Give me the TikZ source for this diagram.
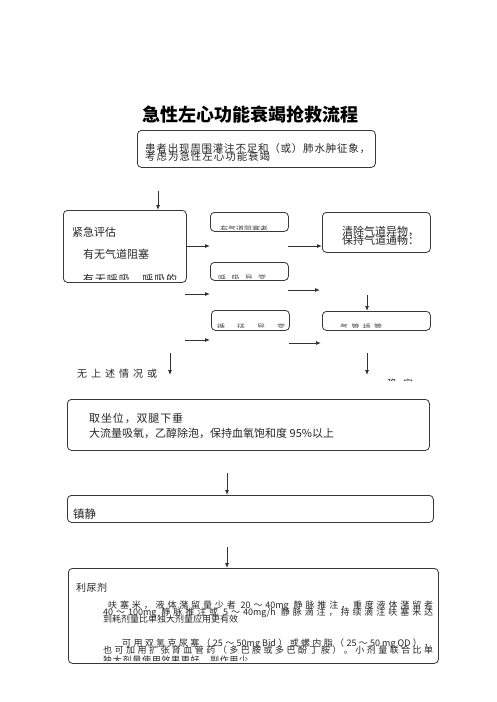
\documentclass[tikz,border=0pt]{standalone}
\usepackage{fontspec}
\setmainfont{Noto Sans CJK SC}
\usetikzlibrary{arrows.meta}
\ExplSyntaxOn
\NewDocumentCommand\spr{mm}{\hbox~to~#1{\tl_map_inline:nn{#2}{##1\hfil}\unskip}}
\ExplSyntaxOff
\begin{document}
\begin{tikzpicture}[x=1pt,y=-1pt,
  rbox/.style={draw=black!78, line width=0.8pt, rounded corners=4pt, anchor=north west, inner sep=0pt},
  txt/.style={anchor=base west, inner sep=0pt, text=black!85, font=\fontsize{11}{11}\selectfont},
  small/.style={txt, font=\fontsize{9}{9}\selectfont},
  tiny/.style={txt, font=\fontsize{8}{8}\selectfont, text=black!70},
  arr/.style={draw=black!80, line width=0.8pt, -{Latex[length=5pt,width=4pt]}}
]
\useasboundingbox (0,0) rectangle (496,702);
\fill[white] (0,0) rectangle (496,702);

% title
\node[anchor=base, inner sep=0pt, font=\fontsize{18}{18}\selectfont\bfseries] (title) at (250,121) {急性左心功能衰竭抢救流程};

% box 1
\node[rbox, minimum width=238pt, minimum height=37pt] (b1) at (137,130) {};
\node[txt, font=\fontsize{10.5}{10.5}\selectfont] (b1a) at (145,152) {\spr{225pt}{患者出现周围灌注不足和（或）肺水肿征象，}};
\node[txt, font=\fontsize{10.5}{10.5}\selectfont] (b1b) at (145,160) {\spr{125pt}{考虑为急性左心功能衰竭}};

% left box
\node[rbox, minimum width=123pt, minimum height=72pt] (lb) at (63,210) {};
\node[txt] (lba) at (72,236) {紧急评估};
\node[txt] (lbb) at (83,258) {有无气道阻塞};
\begin{scope}
  \clip (64,211) rectangle (185,279);
  \node[txt] (lbc) at (83,283) {\spr{94pt}{有无呼吸，呼吸的}};
\end{scope}

% middle boxes
\node[rbox, minimum width=78pt, minimum height=19pt] (ma) at (210,212) {};
\node[rbox, minimum width=78pt, minimum height=18pt] (mb) at (210,262) {};
\node[rbox, minimum width=78pt, minimum height=20pt] (mc) at (211,310) {};
\begin{scope}
  \clip (211,213) rectangle (287,229);
  \node[tiny] (mat) at (220,232) {\spr{44pt}{有气道阻塞者}};
\end{scope}
\begin{scope}
  \clip (211,263) rectangle (287,278);
  \node[tiny] (mbt) at (218,281) {\spr{48pt}{呼吸异常}};
\end{scope}
\begin{scope}
  \clip (212,311) rectangle (288,327);
  \node[tiny] (mct) at (217,330) {\spr{68pt}{循环异常}};
\end{scope}

% right boxes
\node[rbox, minimum width=108pt, minimum height=40pt] (ra) at (322,212) {};
\node[txt] (raa) at (342,235) {清除气道异物，};
\node[txt] (rab) at (342,244) {保持气道通畅：};
\node[rbox, minimum width=108pt, minimum height=19pt] (rb) at (322,311) {};
\begin{scope}
  \clip (323,312) rectangle (429,327);
  \node[tiny] (rbt) at (340,330) {\spr{42pt}{气管插管}};
\end{scope}

% free labels
\node[txt, font=\fontsize{10}{10}\selectfont] (none) at (77,377) {\spr{80pt}{无上述情况或}};
\begin{scope}
  \clip (380,370) rectangle (420,380);
  \node[txt, font=\fontsize{10}{10}\selectfont] (stab) at (387,387) {\spr{26pt}{稳定}};
\end{scope}

% box 4
\node[rbox, minimum width=362pt, minimum height=51pt] (b4) at (67,399) {};
\node[txt] (b4a) at (89,422) {\spr{94pt}{取坐位，双腿下垂}};
\node[txt] (b4b) at (89,437) {大流量吸氧，乙醇除泡，保持血氧饱和度 95\%以上};

% box 5
\node[rbox, minimum width=366pt, minimum height=27pt] (b5) at (67,495) {};
\node[txt, font=\fontsize{11.5}{11.5}\selectfont] (b5a) at (73,518) {镇静};

% box 6
\node[rbox, minimum width=370pt, minimum height=95pt] (b6) at (68,568) {};
\node[txt, font=\fontsize{10}{10}\selectfont] (b6a) at (76,591) {\spr{31pt}{利尿剂}};
\node[small] (l1) at (108,608) {\spr{325pt}{呋塞米，液体潴留量少者{\ 20}～{40mg\ }静脉推注，重度液体潴留者}};
\node[small] (l2) at (103,615) {\spr{330pt}{{40}～{100mg\ }静脉推注或{\ 5}～{40mg/h\ }静脉滴注，持续滴注呋塞米达}};
\node[small] (l3) at (103,622) {到耗剂量比单独大剂量应用更有效};
\node[small] (l4) at (122,646) {\spr{311pt}{可用双氢克尿塞（{25}～{50mg\ Bid}）或螺内脂（{25}～{50\ mg\ QD}），}};
\node[small] (l5) at (103,653) {\spr{330pt}{也可加用扩张肾血管药（多巴胺或多巴酚丁胺）。小剂量联合比单}};
\begin{scope}
  \clip (69,569) rectangle (437,660);
  \node[small] (l6) at (103,663) {\spr{145pt}{独大剂量使用效果更好，副作用少}};
\end{scope}

% connectors
\coordinate (s1) at (158,191);
\draw[arr] (s1) -- (s1 |- lb.north);

\coordinate (p1) at (lb.east |- 0,246);
\coordinate (q1) at (210,246);
\draw[arr] (p1) -- (q1);
\coordinate (p2) at (185,294);
\coordinate (q2) at (210,294);
\draw[arr] (p2) -- (q2);
\coordinate (p3) at (185,340);
\coordinate (q3) at (210,340);
\draw[arr] (p3) -- (q3);

\coordinate (r1) at (288,246);
\draw[arr] (r1) -- (r1 -| ra.west);
\coordinate (r2) at (288,290);
\coordinate (r2e) at (320,290);
\draw[arr] (r2) -- (r2e);
\coordinate (r3) at (289,343);
\coordinate (r3e) at (321,343);
\draw[arr] (r3) -- (r3e);

\coordinate (d1) at (367,295);
\draw[arr] (d1) -- (d1 |- rb.north);

\coordinate (d2) at (170,353);
\coordinate (d2e) at (170,375);
\draw[arr] (d2) -- (d2e);
\coordinate (d3) at (367,353);
\coordinate (d3e) at (367,375);
\draw[arr] (d3) -- (d3e);

\coordinate (s5) at (227,473);
\draw[arr] (s5) -- (s5 |- b5.north);
\coordinate (s6) at (227,547);
\draw[arr] (s6) -- (s6 |- b6.north);
\end{tikzpicture}
\end{document}
